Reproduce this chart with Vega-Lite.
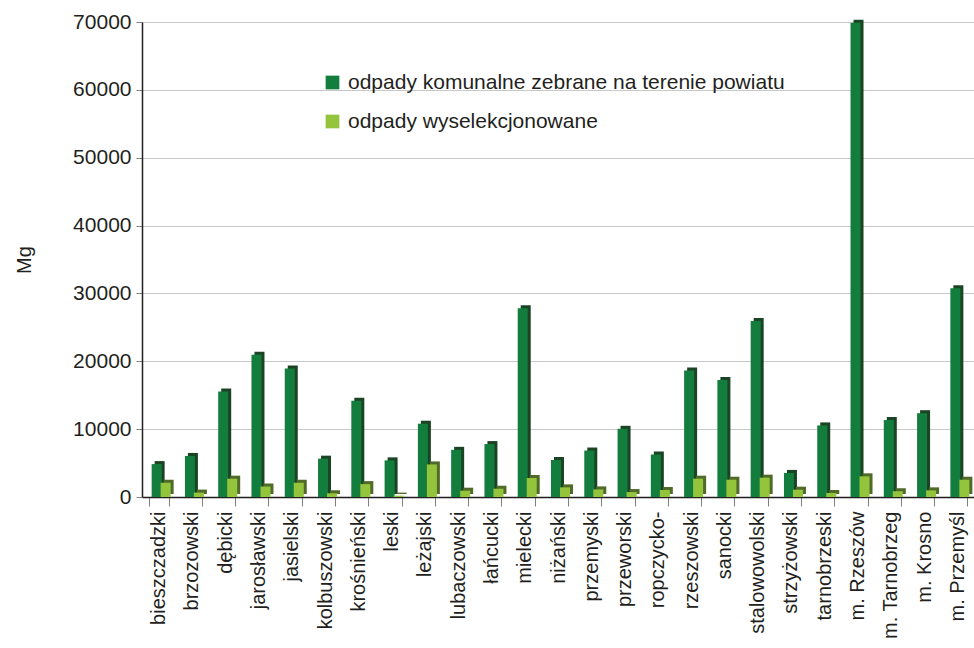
{
  "$schema": "https://vega.github.io/schema/vega-lite/v6.json",
  "width": 832,
  "height": 475,
  "autosize": {"type": "none"},
  "padding": {"left": 142, "top": 22, "right": 0, "bottom": 151},
  "background": "white",
  "config": {
    "font": "Liberation Sans",
    "view": {"stroke": null}
  },
  "data": {
    "values": [
      {"powiat": "bieszczadzki", "seria": "odpady komunalne zebrane na terenie powiatu", "wartosc": 4850},
      {"powiat": "bieszczadzki", "seria": "odpady wyselekcjonowane", "wartosc": 2100},
      {"powiat": "brzozowski", "seria": "odpady komunalne zebrane na terenie powiatu", "wartosc": 6050},
      {"powiat": "brzozowski", "seria": "odpady wyselekcjonowane", "wartosc": 650},
      {"powiat": "dębicki", "seria": "odpady komunalne zebrane na terenie powiatu", "wartosc": 15550},
      {"powiat": "dębicki", "seria": "odpady wyselekcjonowane", "wartosc": 2700},
      {"powiat": "jarosławski", "seria": "odpady komunalne zebrane na terenie powiatu", "wartosc": 20950},
      {"powiat": "jarosławski", "seria": "odpady wyselekcjonowane", "wartosc": 1550},
      {"powiat": "jasielski", "seria": "odpady komunalne zebrane na terenie powiatu", "wartosc": 18950},
      {"powiat": "jasielski", "seria": "odpady wyselekcjonowane", "wartosc": 2100},
      {"powiat": "kolbuszowski", "seria": "odpady komunalne zebrane na terenie powiatu", "wartosc": 5650},
      {"powiat": "kolbuszowski", "seria": "odpady wyselekcjonowane", "wartosc": 550},
      {"powiat": "krośnieński", "seria": "odpady komunalne zebrane na terenie powiatu", "wartosc": 14200},
      {"powiat": "krośnieński", "seria": "odpady wyselekcjonowane", "wartosc": 1900},
      {"powiat": "leski", "seria": "odpady komunalne zebrane na terenie powiatu", "wartosc": 5400},
      {"powiat": "leski", "seria": "odpady wyselekcjonowane", "wartosc": 200},
      {"powiat": "leżajski", "seria": "odpady komunalne zebrane na terenie powiatu", "wartosc": 10800},
      {"powiat": "leżajski", "seria": "odpady wyselekcjonowane", "wartosc": 4800},
      {"powiat": "lubaczowski", "seria": "odpady komunalne zebrane na terenie powiatu", "wartosc": 6950},
      {"powiat": "lubaczowski", "seria": "odpady wyselekcjonowane", "wartosc": 930},
      {"powiat": "łańcucki", "seria": "odpady komunalne zebrane na terenie powiatu", "wartosc": 7800},
      {"powiat": "łańcucki", "seria": "odpady wyselekcjonowane", "wartosc": 1220},
      {"powiat": "mielecki", "seria": "odpady komunalne zebrane na terenie powiatu", "wartosc": 27800},
      {"powiat": "mielecki", "seria": "odpady wyselekcjonowane", "wartosc": 2800},
      {"powiat": "niżański", "seria": "odpady komunalne zebrane na terenie powiatu", "wartosc": 5450},
      {"powiat": "niżański", "seria": "odpady wyselekcjonowane", "wartosc": 1420},
      {"powiat": "przemyski", "seria": "odpady komunalne zebrane na terenie powiatu", "wartosc": 6850},
      {"powiat": "przemyski", "seria": "odpady wyselekcjonowane", "wartosc": 1120},
      {"powiat": "przeworski", "seria": "odpady komunalne zebrane na terenie powiatu", "wartosc": 10050},
      {"powiat": "przeworski", "seria": "odpady wyselekcjonowane", "wartosc": 730},
      {"powiat": "ropczycko-", "seria": "odpady komunalne zebrane na terenie powiatu", "wartosc": 6250},
      {"powiat": "ropczycko-", "seria": "odpady wyselekcjonowane", "wartosc": 1030},
      {"powiat": "rzeszowski", "seria": "odpady komunalne zebrane na terenie powiatu", "wartosc": 18650},
      {"powiat": "rzeszowski", "seria": "odpady wyselekcjonowane", "wartosc": 2700},
      {"powiat": "sanocki", "seria": "odpady komunalne zebrane na terenie powiatu", "wartosc": 17250},
      {"powiat": "sanocki", "seria": "odpady wyselekcjonowane", "wartosc": 2550},
      {"powiat": "stalowowolski", "seria": "odpady komunalne zebrane na terenie powiatu", "wartosc": 25950},
      {"powiat": "stalowowolski", "seria": "odpady wyselekcjonowane", "wartosc": 2850},
      {"powiat": "strzyżowski", "seria": "odpady komunalne zebrane na terenie powiatu", "wartosc": 3550},
      {"powiat": "strzyżowski", "seria": "odpady wyselekcjonowane", "wartosc": 1080},
      {"powiat": "tarnobrzeski", "seria": "odpady komunalne zebrane na terenie powiatu", "wartosc": 10550},
      {"powiat": "tarnobrzeski", "seria": "odpady wyselekcjonowane", "wartosc": 590},
      {"powiat": "m. Rzeszów", "seria": "odpady komunalne zebrane na terenie powiatu", "wartosc": 69900},
      {"powiat": "m. Rzeszów", "seria": "odpady wyselekcjonowane", "wartosc": 3050},
      {"powiat": "m. Tarnobrzeg", "seria": "odpady komunalne zebrane na terenie powiatu", "wartosc": 11350},
      {"powiat": "m. Tarnobrzeg", "seria": "odpady wyselekcjonowane", "wartosc": 850},
      {"powiat": "m. Krosno", "seria": "odpady komunalne zebrane na terenie powiatu", "wartosc": 12350},
      {"powiat": "m. Krosno", "seria": "odpady wyselekcjonowane", "wartosc": 980},
      {"powiat": "m. Przemyśl", "seria": "odpady komunalne zebrane na terenie powiatu", "wartosc": 30750},
      {"powiat": "m. Przemyśl", "seria": "odpady wyselekcjonowane", "wartosc": 2550}
    ]
  },
  "encoding": {
    "x": {
      "field": "powiat",
      "type": "nominal",
      "sort": null,
      "scale": {"paddingInner": 0.4, "paddingOuter": 0.2},
      "axis": {
        "title": null,
        "labelAngle": -90,
        "labelFontSize": 20,
        "labelColor": "#231f20",
        "labelPadding": 5,
        "tickBand": "extent",
        "tickColor": "#808080",
        "tickSize": 9,
        "domainColor": "#231f20",
        "domainWidth": 1.5,
        "grid": false
      }
    },
    "y": {
      "field": "wartosc",
      "type": "quantitative",
      "scale": {"domain": [0, 70000], "nice": false},
      "axis": {
        "title": "Mg",
        "titleFontSize": 20,
        "titleFontWeight": "normal",
        "titleColor": "#231f20",
        "titlePadding": 38,
        "values": [0, 10000, 20000, 30000, 40000, 50000, 60000, 70000],
        "format": "d",
        "labelFontSize": 21,
        "labelColor": "#231f20",
        "labelPadding": 5,
        "tickColor": "#808080",
        "tickSize": 6,
        "domainColor": "#231f20",
        "domainWidth": 1.5,
        "grid": true,
        "gridColor": "#c8c8c8",
        "gridWidth": 1
      }
    }
  },
  "layer": [
    {
      "transform": [{"filter": "datum.seria === 'odpady komunalne zebrane na terenie powiatu'"}],
      "mark": {"type": "bar", "width": 10, "xOffset": 1, "yOffset": -3, "fill": "#1b4424"}
    },
    {
      "transform": [{"filter": "datum.seria === 'odpady komunalne zebrane na terenie powiatu'"}],
      "mark": {"type": "bar", "width": 10, "xOffset": -2},
      "encoding": {
        "color": {
          "field": "seria",
          "type": "nominal",
          "sort": null,
          "scale": {
            "domain": ["odpady komunalne zebrane na terenie powiatu", "odpady wyselekcjonowane"],
            "range": ["#137d3d", "#94c43c"]
          },
          "legend": {
            "title": null,
            "orient": "none",
            "legendX": 180,
            "legendY": 50,
            "symbolType": "square",
            "symbolSize": 188,
            "symbolStrokeWidth": 0,
            "labelFontSize": 21,
            "labelColor": "#231f20",
            "labelOffset": 5,
            "rowPadding": 17,
            "labelLimit": 700
          }
        }
      }
    },
    {
      "transform": [{"filter": "datum.seria === 'odpady wyselekcjonowane'"}],
      "mark": {"type": "bar", "width": 10, "xOffset": 10, "yOffset": -3, "fill": "#506a2a"}
    },
    {
      "transform": [{"filter": "datum.seria === 'odpady wyselekcjonowane'"}],
      "mark": {"type": "bar", "width": 10, "xOffset": 7},
      "encoding": {
        "color": {
          "field": "seria",
          "type": "nominal",
          "sort": null
        }
      }
    }
  ]
}
